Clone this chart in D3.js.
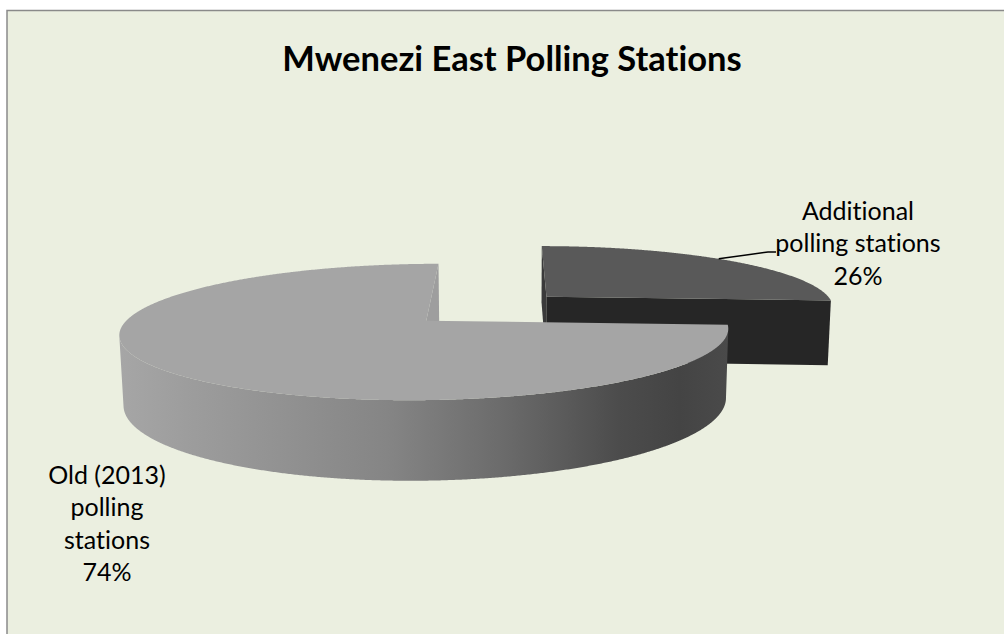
<!DOCTYPE html>
<html>
<head>
<meta charset="utf-8">
<script src="https://cdn.jsdelivr.net/npm/d3@7"></script>
<style>
  body { margin: 0; background: #fff; }
  text { font-family: Lato, "Open Sans", sans-serif; fill: #000;
         font-variant-ligatures: none; font-feature-settings: "liga" 0, "clig" 0; }
</style>
</head>
<body>
<div id="chart"></div>
<script>
// ---- data ----
var chartTitle = "Mwenezi East Polling Stations";
var categories = ["Additional polling stations", "Old (2013) polling stations"];
var values = [26, 74];
var labelLines = [["Additional", "polling stations"], ["Old (2013)", "polling", "stations"]];
var sliceColors = [
    {top: "#595959", cut: "#262626", cutStart: "#3a3a3a"},
    {top: "#a5a5a5", cut: "#9e9e9e", cutStart: "#9e9e9e"}
];

var width = 1004, height = 634;

var svg = d3.select("#chart").append("svg")
    .attr("width", width)
    .attr("height", height);

// chart area frame (only top and left edges visible)
svg.append("rect")
    .attr("x", 7).attr("y", 10.5)
    .attr("width", width + 10).attr("height", height + 10)
    .attr("fill", "#ebefe0")
    .attr("stroke", "#8a8a8a")
    .attr("stroke-width", 1.5);

svg.append("text")
    .attr("x", 512).attr("y", 71)
    .attr("text-anchor", "middle")
    .attr("font-size", 34.5)
    .attr("font-weight", "bold")
    .text(chartTitle);

// ---- simple perspective camera for the 3D pie (radius = 1) ----
var cam = {ox: 512, oy: 388.7, f: 1736, D: 5.85, sin: 0.259, cos: 0.966};
var camPos = [0, -cam.D * cam.cos, cam.D * cam.sin];
var thick = 0.235;       // pie height
var pieX = -0.286;       // pie centre (world x)
var explode = 0.56;      // explosion distance of first slice

function proj(x, y, z) {
    var w = cam.D + y * cam.cos - z * cam.sin;
    var s = cam.f / w;
    return [cam.ox + x * s, cam.oy - (y * cam.sin + z * cam.cos) * s];
}

var line = d3.line();

var pie = d3.pie().sort(null).value(function(d){ return d; });
var arcs = pie(values);
var total = d3.sum(values);

arcs.forEach(function(d, i){
    var mid = (d.startAngle + d.endAngle) / 2;
    var e = i === 0 ? explode : 0;
    d.cx = pieX + e * Math.sin(mid);
    d.cy = e * Math.cos(mid);
    d.mid = mid;
});

function rim(d, a, z) { return proj(d.cx + Math.sin(a), d.cy + Math.cos(a), z); }
function centre(d, z) { return proj(d.cx, d.cy, z); }

function sampleAngles(a0, a1) {
    var n = Math.max(2, Math.ceil(Math.abs(a1 - a0) / 0.005));
    return d3.range(n + 1).map(function(k){ return a0 + (a1 - a0) * k / n; });
}

// is the outer wall at angle a turned toward the camera?
function wallFacing(d, a) {
    var sx = Math.sin(a), cy = Math.cos(a);
    return sx * (camPos[0] - d.cx - sx) + cy * (camPos[1] - d.cy - cy) > 0;
}

// gradient for the curved wall
var defs = svg.append("defs");
var grad = defs.append("linearGradient")
    .attr("id", "wallGrad")
    .attr("gradientUnits", "userSpaceOnUse")
    .attr("x1", 120).attr("x2", 728).attr("y1", 0).attr("y2", 0);
[[0, "#a6a6a6"], [0.11, "#9d9d9d"], [0.44, "#858585"], [0.63, "#6b6b6b"],
 [0.82, "#4c4c4c"], [0.92, "#444444"], [1, "#4a4a4a"]].forEach(function(s){
    grad.append("stop").attr("offset", s[0]).attr("stop-color", s[1]);
});

var gPie = svg.append("g").attr("class", "pie3d");

// draw the exploded (far) slice first, then the big one in front
arcs.forEach(function(d, i){
    var g = gPie.append("g").attr("class", "slice slice-" + i);

    // outer wall, only the part that faces the viewer
    var vis = sampleAngles(d.startAngle, d.endAngle).filter(function(a){ return wallFacing(d, a); });
    if (vis.length > 1) {
        var pts = vis.map(function(a){ return rim(d, a, thick); })
            .concat(vis.slice().reverse().map(function(a){ return rim(d, a, 0); }));
        g.append("path")
            .attr("d", line(pts) + "Z")
            .attr("fill", "url(#wallGrad)");
    }

    // radial cut faces
    [[d.startAngle, -1], [d.endAngle, 1]].forEach(function(c){
        var a = c[0];
        var n = [Math.sin(a + c[1] * Math.PI / 2), Math.cos(a + c[1] * Math.PI / 2)];
        var facing = n[0] * (camPos[0] - d.cx) + n[1] * (camPos[1] - d.cy) > 0;
        if (!facing) return;
        var pts = [centre(d, thick), rim(d, a, thick), rim(d, a, 0), centre(d, 0)];
        g.append("path")
            .attr("d", line(pts) + "Z")
            .attr("fill", c[1] > 0 ? sliceColors[i].cut : sliceColors[i].cutStart);
    });

    // top face
    var top = [centre(d, thick)].concat(sampleAngles(d.startAngle, d.endAngle).map(function(a){ return rim(d, a, thick); }));
    g.append("path")
        .attr("d", line(top) + "Z")
        .attr("fill", sliceColors[i].top);
});

// ---- data labels ----
var pct = d3.format(".0%");
var labelPos = [{x: 858, y: 220}, {x: 107, y: 484}];
var lineGap = 32.3;

arcs.forEach(function(d, i){
    var lines = labelLines[i].concat([pct(values[i] / total)]);
    var t = svg.append("text")
        .attr("class", "data-label")
        .attr("text-anchor", "middle")
        .attr("font-size", 25);
    lines.forEach(function(s, k){
        t.append("tspan")
            .attr("x", labelPos[i].x)
            .attr("y", labelPos[i].y + k * lineGap)
            .text(s);
    });
});

// leader line for the exploded slice
var anchor = rim(arcs[0], arcs[0].mid - 0.05, thick);
svg.append("path")
    .attr("d", line([anchor, [768, 252], [776, 252]]))
    .attr("fill", "none")
    .attr("stroke", "#000")
    .attr("stroke-width", 1.5);
</script>
</body>
</html>
